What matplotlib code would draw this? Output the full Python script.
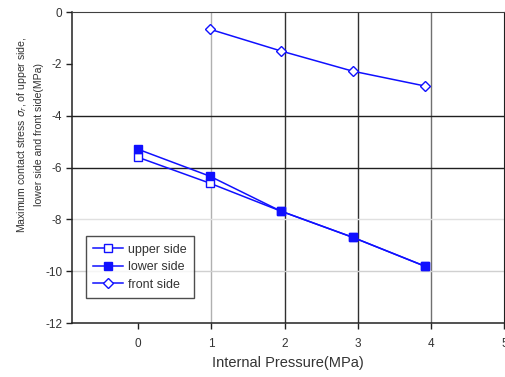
import matplotlib
matplotlib.use('Agg')
import matplotlib.pyplot as plt

plt.rcParams['font.family'] = ['Liberation Sans', 'DejaVu Sans']
plt.rcParams['axes.unicode_minus'] = False

pressure = [0.0, 0.98, 1.95, 2.93, 3.91]
upper_side = [-5.6, -6.6, -7.68, -8.69, -9.8]
lower_side = [-5.29, -6.33, -7.68, -8.69, -9.8]
front_pressure = [0.98, 1.95, 2.93, 3.91]
front_side = [-0.66, -1.5, -2.28, -2.85]

x_ticks = [0, 1, 2, 3, 4, 5]
y_ticks = [0, -2, -4, -6, -8, -10, -12]

text_color = '#333333'

fig = plt.figure(figsize=(5.06, 3.77), dpi=100)
ax = fig.add_axes([0.142, 0.143, 0.855, 0.825])

# scanned-looking grid: some lines dark, some faint
for x, c in [(1, '#b0b0b0'), (2, '#303030'), (3, '#303030'), (4, '#707070')]:
    ax.axvline(x, color=c, lw=1.0, zorder=1)
for y, c in [(-4, '#202020'), (-6, '#202020'), (-8, '#e0e0e0'), (-10, '#d0d0d0')]:
    ax.axhline(y, color=c, lw=1.0, zorder=1)

blue = '#1010ff'
ax.plot(pressure, upper_side, color=blue, lw=1.1, marker='s', ms=5.5,
        mfc='white', mec=blue, mew=1.0, label='upper side', zorder=3)
ax.plot(pressure, lower_side, color=blue, lw=1.1, marker='s', ms=5.5,
        mfc=blue, mec=blue, label='lower side', zorder=4)
ax.plot(front_pressure, front_side, color=blue, lw=1.1, marker='D', ms=5,
        mfc='white', mec=blue, mew=1.0, label='front side', zorder=3)

ax.set_xlim(-0.9, 5)
ax.set_ylim(-12, 0)
ax.set_xticks(x_ticks)
ax.set_yticks(y_ticks)
ax.tick_params(axis='x', labelsize=8.5, length=4, width=1, colors='#222222',
               labelcolor=text_color, pad=7)
ax.tick_params(axis='y', labelsize=8.5, length=4, width=1, colors='#222222',
               labelcolor=text_color, pad=3)

for side in ['left', 'bottom']:
    ax.spines[side].set_color('#222222')
    ax.spines[side].set_linewidth(1.1)
ax.spines['top'].set_color('#404040')
ax.spines['right'].set_color('#202020')

ax.set_xlabel('Internal Pressure(MPa)', fontsize=10.5, color=text_color, va='center')
ax.xaxis.set_label_coords(0.5, -0.129)
ax.set_ylabel('Maximum contact stress $\\sigma_r$, of upper side,\nlower side and front side(MPa)',
              fontsize=7.6, color=text_color, va='center', linespacing=1.7)
ax.yaxis.set_label_coords(-0.098, 0.605)

leg = ax.legend(loc='upper left', bbox_to_anchor=(0.032, 0.28), fontsize=9,
                frameon=True, fancybox=False, edgecolor='#222222',
                borderpad=0.6, handlelength=2.4, handletextpad=0.4,
                labelspacing=0.45, borderaxespad=0)
leg.get_frame().set_linewidth(1.0)
for t in leg.get_texts():
    t.set_color(text_color)

fig.savefig('out.png', dpi=100)
